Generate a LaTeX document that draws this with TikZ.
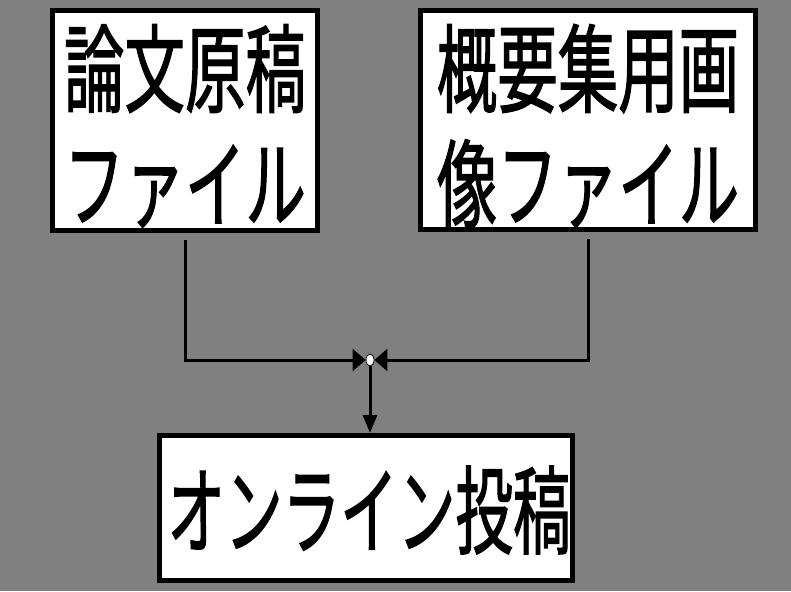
\documentclass[tikz,border=0pt]{standalone}
\usepackage{fontspec}
\setmainfont{Noto Sans CJK JP}
\newfontfamily\jpmed{Noto Sans CJK JP}[FakeBold=1.6]
\usetikzlibrary{arrows.meta,shapes.geometric}
\newcommand\sx[1]{\scalebox{0.63}[1]{#1}}
\newcommand\sxb[1]{\scalebox{0.6}[1]{#1}}
\tikzset{
  box/.style={draw=black, line width=5pt, fill=white, inner sep=0pt, align=center,
    font=\fontsize{96}{115}\selectfont\jpmed},
  conn/.style={draw=black, line width=3pt},
  hjoin/.style={conn, -{Triangle[length=13pt,width=22pt]}},
  vjoin/.style={conn, -{Triangle[length=18pt,width=14pt]}},
}
\begin{document}
\begin{tikzpicture}[x=1pt,y=-1pt]
\fill[fill={rgb,255:red,128;green,128;blue,128}] (0,0) rectangle (791,591);
\useasboundingbox (0,0) rectangle (791,591);
\node[box, minimum width=265pt, minimum height=220pt] (b1) at (185,120.5) {};
\node[box, minimum width=335pt, minimum height=219pt] (b2) at (588,120) {};
\node[box, minimum width=413pt, minimum height=145pt] (b3) at (366,508) {};
\node[box, draw=none, fill=none] (t1) at (185,126) {\sx{論文原稿}\\\sx{ファイル}};
\node[box, draw=none, fill=none] (t2) at (588,126) {\sx{概要集用画}\\\sx{像ファイル}};
\node[box, draw=none, fill=none] (t3) at (369,510) {\sxb{オンライン投稿}};
\node[draw=black, line width=0.8pt, fill=white, ellipse, minimum width=8pt, minimum height=12pt, inner sep=0pt] (j) at (370,360) {};
\draw[hjoin, shorten <=7pt] (b1.south) |- (j.west);
\draw[hjoin, shorten <=7pt] (b2.south) |- (j.east);
\draw[vjoin] (j.south) -- (j.south |- b3.north);
\end{tikzpicture}
\end{document}
